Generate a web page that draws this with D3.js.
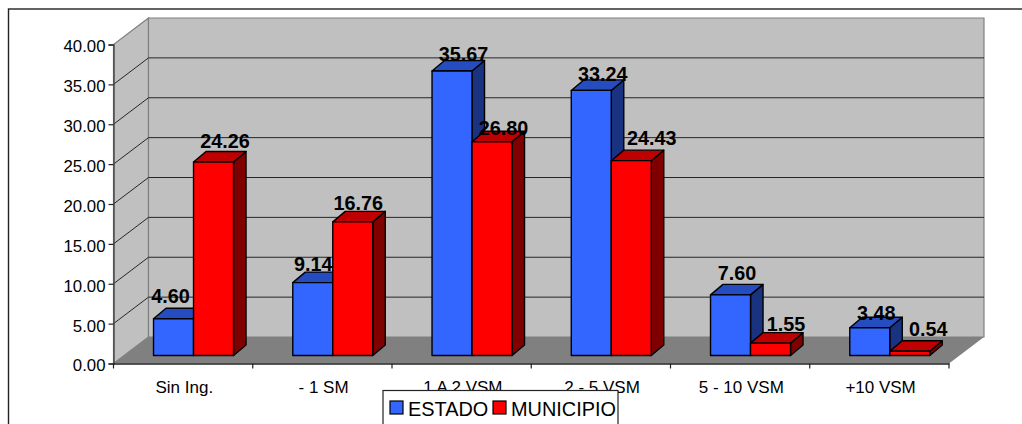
<!DOCTYPE html>
<html><head><meta charset="utf-8">
<script src="https://cdn.jsdelivr.net/npm/d3@7/dist/d3.min.js"></script>
<style>html,body{margin:0;padding:0;background:#fff;overflow:hidden}svg{display:block}text{font-family:"Liberation Sans",Arial,sans-serif;fill:#000}</style>
</head><body><div id="c"></div>
<script>
const categories = ["Sin Ing.", "- 1 SM", "1 A 2 VSM", "2 - 5 VSM", "5 - 10 VSM", "+10 VSM"];
const estado = [4.60, 9.14, 35.67, 33.24, 7.60, 3.48];
const municipio = [24.26, 16.76, 26.80, 24.43, 1.55, 0.54];
const yTicks = [0, 5, 10, 15, 20, 25, 30, 35, 40];
const seriesNames = ["ESTADO", "MUNICIPIO"];
// hand-placed data label nudges (dx from bar centre, dy from bar's back top edge)
const labelNudgeEstado = [[-3,-5.5],[0.5,-1],[11.5,0],[11.5,1.5],[6.5,-4],[6.5,3]];
const labelNudgeMunicipio = [[11.5,-4],[5.5,-1],[11.5,4],[20.5,-5],[15.5,-1.5],[18.5,-4.5]];

const W = 1022, H = 424;
const x0 = 113.5, x1 = 949, yBase = 363.5, yTop = 44.5;
const wallDx = 35, wallDy = -26.5;   // depth of the box
const barDz = 12, barDy = -8;        // shift of the bars' front face into the box
const topDx = 12.5, topDy = -10.5;   // depth of a bar

const svg = d3.select("#c").append("svg").attr("width", W).attr("height", H);
const x = d3.scaleBand().domain(categories).range([x0, x1]);
const y = d3.scaleLinear().domain([0, 40]).range([yBase, yTop]);
const barW = 40;
const barOff = (x.bandwidth() - 2 * barW) / 2 - 1.6;
const poly = pts => pts.map(p => p.join(",")).join(" ");

// walls and floor
const wall = svg.append("g");
wall.append("polygon").attr("points", poly([[x0,yBase],[x0,yTop],[x0+wallDx,yTop+wallDy],[x0+wallDx,yBase+wallDy]]))
  .attr("fill","#c0c0c0").attr("stroke","#808080").attr("stroke-width",1.2);
wall.append("polygon").attr("points", poly([[x0+wallDx,yBase+wallDy],[x0+wallDx,yTop+wallDy],[x1+wallDx,yTop+wallDy],[x1+wallDx,yBase+wallDy]]))
  .attr("fill","#c0c0c0").attr("stroke","#808080").attr("stroke-width",1.2);
wall.append("polygon").attr("points", poly([[x0,yBase],[x0+wallDx,yBase+wallDy],[x1+wallDx,yBase+wallDy],[x1,yBase]]))
  .attr("fill","#808080");

// gridlines
const grid = yTicks.filter(d => d > 0 && d < 40);
svg.append("g").selectAll("path").data(grid).join("path")
  .attr("d", d => `M${x0},${y(d)}L${x0+wallDx},${y(d)+wallDy}L${x1+wallDx},${y(d)+wallDy}`)
  .attr("fill","none").attr("stroke","#262626").attr("stroke-width",1);

// frame
svg.append("rect").attr("x",8.5).attr("y",9).attr("width",W+20).attr("height",H+20)
  .attr("fill","none").attr("stroke","#222").attr("stroke-width",1.4);

// axes
const yAxis = d3.axisLeft(y).tickValues(yTicks).tickFormat(d3.format(".2f")).tickSize(5).tickPadding(3);
const gy = svg.append("g").attr("transform",`translate(${x0},0)`).call(yAxis);
gy.selectAll("text").attr("font-size",16.8).attr("dy","0.44em");
gy.selectAll("line").attr("stroke","#222").attr("stroke-width",1.2);
gy.select(".domain").attr("stroke","#444").attr("stroke-width",1.4);

const xAxis = d3.axisBottom(x).tickSize(0).tickPadding(17);
const gx = svg.append("g").attr("transform",`translate(0,${yBase})`).call(xAxis);
gx.selectAll("text").attr("font-size",17).attr("dx",1.2);
gx.select(".domain").attr("stroke","#222").attr("stroke-width",1.3);
gx.selectAll(".tick line").remove();
const xEdges = categories.map(c => x(c)).concat([x1]);
svg.append("g").selectAll("line").data(xEdges).join("line")
  .attr("x1",d=>d).attr("x2",d=>d).attr("y1",yBase).attr("y2",yBase+5)
  .attr("stroke","#222").attr("stroke-width",1.2);

// bars
const rows = [];
categories.forEach((c,i) => {
  rows.push({c, v:estado[i], s:0, n:labelNudgeEstado[i]});
  rows.push({c, v:municipio[i], s:1, n:labelNudgeMunicipio[i]});
});
const colors = [{front:"#3366ff",top:"#264dbf",side:"#1a3380"},{front:"#ff0000",top:"#bf0000",side:"#800000"}];
const bx = d => x(d.c) + barOff + barDz + d.s * barW;
const by = d => y(d.v) + barDy;
const floorY = y(0) + barDy;
const bars = svg.append("g").selectAll("g").data(rows).join("g")
  .attr("stroke","#000").attr("stroke-width",1.4).attr("stroke-linejoin","round");
bars.append("polygon").attr("fill",d=>colors[d.s].side)
  .attr("points",d=>poly([[bx(d)+barW,by(d)],[bx(d)+barW+topDx,by(d)+topDy],[bx(d)+barW+topDx,floorY+topDy],[bx(d)+barW,floorY]]));
bars.append("polygon").attr("fill",d=>colors[d.s].top)
  .attr("points",d=>poly([[bx(d),by(d)],[bx(d)+topDx,by(d)+topDy],[bx(d)+barW+topDx,by(d)+topDy],[bx(d)+barW,by(d)]]));
bars.append("rect").attr("fill",d=>colors[d.s].front)
  .attr("x",bx).attr("y",by).attr("width",barW).attr("height",d=>floorY-by(d));

// data labels
svg.append("g").selectAll("text").data(rows).join("text")
  .attr("x",d=>bx(d)+barW/2+d.n[0]).attr("y",d=>by(d)+topDy+d.n[1])
  .attr("text-anchor","middle").attr("font-size",19.8).attr("font-weight","bold")
  .text(d=>d.v.toFixed(2));

// legend
const lg = svg.append("g");
lg.append("rect").attr("x",383).attr("y",390.5).attr("width",235).attr("height",50)
  .attr("fill","#fff").attr("stroke","#222").attr("stroke-width",1.2);
const legendX = [390, 493];
seriesNames.forEach((n,i) => {
  lg.append("rect").attr("x",legendX[i]).attr("y",401).attr("width",13).attr("height",13)
    .attr("fill",colors[i].front).attr("stroke","#000").attr("stroke-width",1.2);
  lg.append("text").attr("x",legendX[i]+18).attr("y",416).attr("font-size",19.9).text(n);
});
</script></body></html>
